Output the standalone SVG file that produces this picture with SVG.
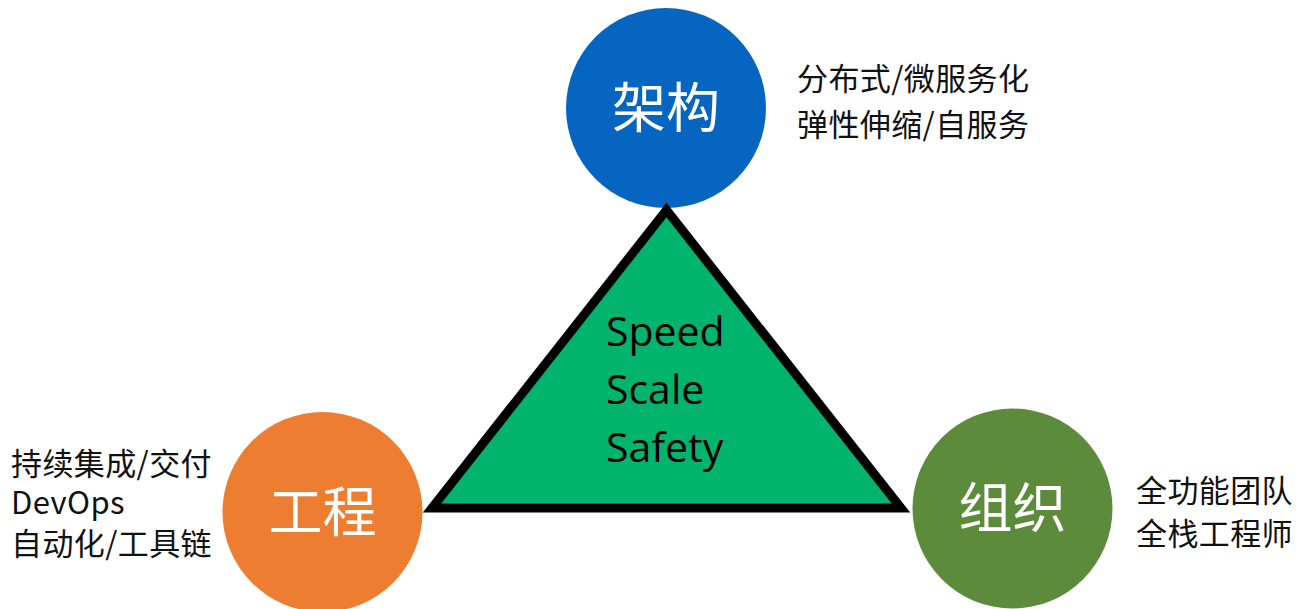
<svg xmlns="http://www.w3.org/2000/svg" width="1298" height="609" viewBox="0 0 1298 609">
  <style>
    .node-label { font-family: "Noto Sans CJK SC", "Noto Sans", sans-serif; font-size: 54px; fill: #ffffff; text-anchor: middle; }
    .note { font-family: "Noto Sans CJK SC", "Noto Sans", sans-serif; font-size: 31px; letter-spacing: 0.4px; fill: #111111; }
    .center-text { font-family: "Open Sans", "Liberation Sans", sans-serif; font-size: 41px; fill: #000000; }
  </style>
  <rect width="1298" height="609" fill="#ffffff"/>

  <g id="node-architecture">
    <circle cx="666" cy="108" r="100" fill="#0565C0"/>
    <text class="node-label" x="666" y="128">架构</text>
  </g>

  <g id="node-engineering">
    <circle cx="322.5" cy="512" r="100" fill="#ED7D31"/>
    <text class="node-label" x="322.5" y="532">工程</text>
  </g>

  <g id="node-organization">
    <circle cx="1012.5" cy="508.5" r="100" fill="#5B8B3B"/>
    <text class="node-label" x="1012.5" y="528">组织</text>
  </g>

  <g id="connectors"></g>

  <g id="node-triangle">
    <polygon points="666.5,210 432,508 901,508" fill="#00B46E" stroke="#000000" stroke-width="9" stroke-linejoin="miter" stroke-miterlimit="10"/>
    <text class="center-text" x="606" y="346">Speed</text>
    <text class="center-text" x="606" y="404">Scale</text>
    <text class="center-text" x="606" y="462">Safety</text>
  </g>

  <g id="notes-architecture">
    <text class="note" x="797" y="90">分布式/微服务化</text>
    <text class="note" x="797" y="136">弹性伸缩/自服务</text>
  </g>

  <g id="notes-engineering">
    <text class="note" x="11" y="475">持续集成/交付</text>
    <text class="note" x="11" y="514">DevOps</text>
    <text class="note" x="11" y="555">自动化/工具链</text>
  </g>

  <g id="notes-organization">
    <text class="note" x="1136" y="502">全功能团队</text>
    <text class="note" x="1136" y="545">全栈工程师</text>
  </g>
</svg>
